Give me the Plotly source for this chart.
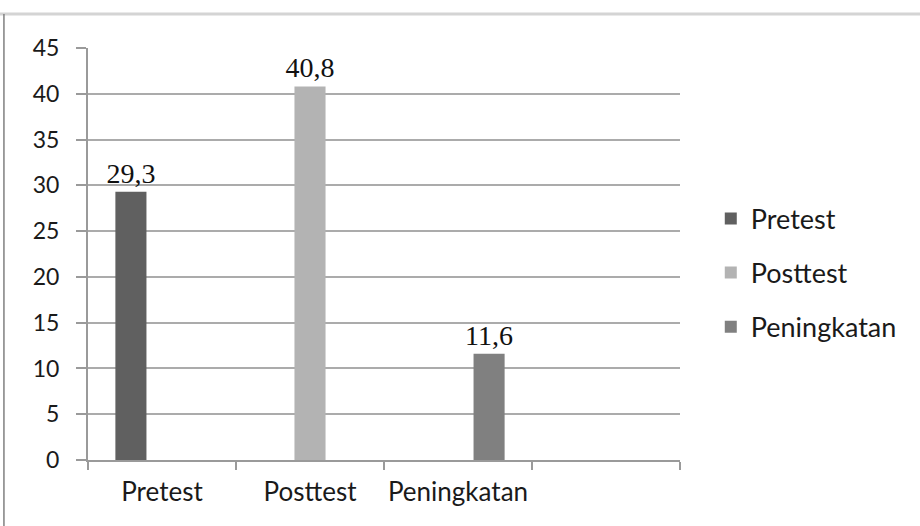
import plotly.graph_objects as go

categories = ["Pretest", "Posttest", "Peningkatan", " "]
series_names = ["Pretest", "Posttest", "Peningkatan"]
pretest_values = [29.3, None, None, None]
posttest_values = [None, 40.8, None, None]
peningkatan_values = [None, None, 11.6, None]
series_colors = ["#606060", "#b3b3b3", "#808080"]
y_ticks = [0, 5, 10, 15, 20, 25, 30, 35, 40, 45]

all_values = [pretest_values, posttest_values, peningkatan_values]

fig = go.Figure()
for i, (name, vals, col) in enumerate(zip(series_names, all_values, series_colors)):
    fig.add_trace(go.Bar(
        x=categories, y=vals, name=name,
        marker=dict(color=col, line=dict(width=0)),
        texttemplate="%{y:.1f}", textposition="outside", constraintext="none",
        textfont=dict(family="Liberation Serif", size=28, color="#111111"),
        cliponaxis=False, legendgroup=name,
    ))

fig.update_layout(
    width=920, height=526,
    margin=dict(l=88, r=240, t=48, b=66, autoexpand=False),
    paper_bgcolor="white", plot_bgcolor="white",
    barmode="group", bargap=0.37, bargroupgap=0,
    separators=",.",
    font=dict(family="Lato", size=25, color="#1a1a1a"),
    legend=dict(x=1.052, y=0.454, xanchor="left", yanchor="middle",
                font=dict(family="Lato", size=27, color="#1a1a1a"),
                tracegroupgap=16, bgcolor="rgba(0,0,0,0)"),
    xaxis=dict(type="category", categoryorder="array", categoryarray=categories,
               range=[-0.5, 3.5], tickson="boundaries", ticks="outside", ticklen=8,
               tickangle=0, automargin=False,
               tickcolor="#9a9a9a", tickwidth=2, showgrid=False, showline=True,
               linecolor="#9a9a9a", linewidth=2, ticklabelstandoff=8,
               tickfont=dict(family="Lato", size=26, color="#1a1a1a")),
    yaxis=dict(range=[0, 45], tickvals=y_ticks, ticks="outside", ticklen=10,
               automargin=False,
               tickcolor="#9a9a9a", tickwidth=2, showgrid=True, gridcolor="#ababab",
               gridwidth=2, showline=True, linecolor="#9a9a9a", linewidth=2,
               zeroline=False, ticklabelstandoff=12,
               tickfont=dict(family="Lato", size=23, color="#1a1a1a")),
    shapes=[
        dict(type="line", xref="paper", yref="paper", x0=-0.149, x1=1.41,
             y0=1.0825, y1=1.0825, line=dict(color="#d4d4d4", width=3)),
        dict(type="line", xref="paper", yref="paper", x0=-0.142, x1=-0.142,
             y0=1.0825, y1=-0.17, line=dict(color="#808080", width=1.5)),
    ],
)

fig.write_html("out.html", config={"displayModeBar": False},
               post_script="document.body.style.margin='0';")
